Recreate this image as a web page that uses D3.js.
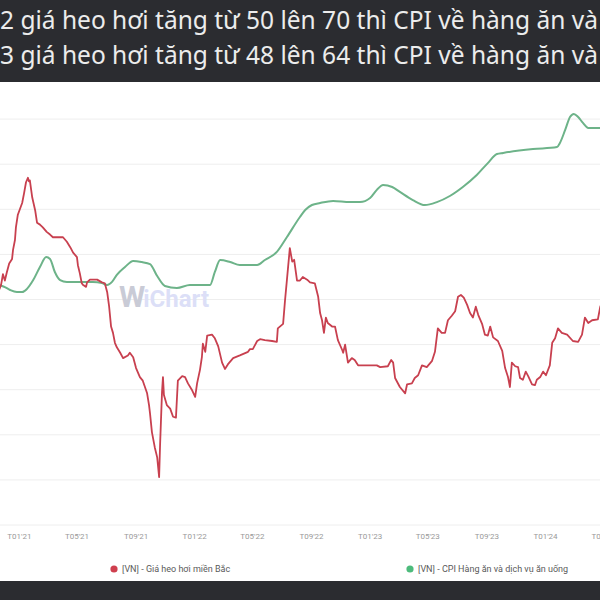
<!DOCTYPE html>
<html><head><meta charset="utf-8">
<script src="https://cdn.jsdelivr.net/npm/d3@7"></script>
<style>html,body{margin:0;padding:0;background:#fff;}svg{display:block;}</style>
</head><body>
<svg id="c" width="600" height="600"></svg>
<script>
const bannerLines = ["2 giá heo hơi tăng từ 50 lên 70 thì CPI về hàng ăn và",
                     "3 giá heo hơi tăng từ 48 lên 64 thì CPI về hàng ăn và"];
const seriesNames = ["[VN] - Giá heo hơi miền Bắc", "[VN] - CPI Hàng ăn và dịch vụ ăn uống"];
const tickDates = ["2021-01-01","2021-05-01","2021-09-01","2022-01-01","2022-05-01","2022-09-01",
                   "2023-01-01","2023-05-01","2023-09-01","2024-01-01","2024-05-01"];

const porkDates = ["2020-11-19","2020-11-25","2020-11-29","2020-12-03","2020-12-07","2020-12-12","2020-12-18","2020-12-20","2020-12-24","2020-12-26","2020-12-30",
"2021-01-08","2021-01-12","2021-01-16","2021-01-20","2021-01-22","2021-01-24","2021-01-29","2021-02-04","2021-02-08","2021-02-14","2021-02-20","2021-02-28",
"2021-03-07","2021-03-13","2021-04-03","2021-04-11","2021-04-18","2021-04-24","2021-05-02","2021-05-04","2021-05-08","2021-05-12","2021-05-15","2021-05-21",
"2021-05-23","2021-05-29","2021-06-13","2021-06-23","2021-06-29","2021-07-04","2021-07-08","2021-07-12","2021-07-16","2021-07-20","2021-07-24","2021-07-31",
"2021-08-06","2021-08-16","2021-08-20","2021-08-27","2021-09-02","2021-09-10","2021-09-16","2021-09-25","2021-09-29","2021-10-01","2021-10-05","2021-10-11",
"2021-10-16","2021-10-20","2021-10-22","2021-10-26","2021-10-28","2021-10-30","2021-11-05","2021-11-12","2021-11-18","2021-11-24","2021-11-28","2021-12-07",
"2021-12-13","2021-12-19","2021-12-27","2022-01-03","2022-01-07","2022-01-13","2022-01-17","2022-01-19","2022-01-24","2022-01-28","2022-02-07","2022-02-13",
"2022-02-20","2022-02-28","2022-03-06","2022-03-12","2022-03-23","2022-04-06","2022-04-23","2022-04-27","2022-05-03","2022-05-12","2022-05-18","2022-05-28",
"2022-06-12","2022-06-22","2022-06-24","2022-07-05","2022-07-09","2022-07-13","2022-07-19","2022-07-24","2022-07-28","2022-08-03","2022-08-09","2022-08-15",
"2022-08-24","2022-08-30","2022-09-09","2022-09-16","2022-09-20","2022-09-24","2022-09-28","2022-10-02","2022-10-06","2022-10-15","2022-10-21","2022-10-27",
"2022-11-05","2022-11-07","2022-11-11","2022-11-17","2022-11-25","2022-12-01","2022-12-08","2023-01-16","2023-01-23","2023-02-08","2023-02-15","2023-02-19",
"2023-02-23","2023-03-05","2023-03-16","2023-03-20","2023-03-30","2023-04-05","2023-04-12","2023-04-20","2023-04-30","2023-05-11","2023-05-17","2023-05-23",
"2023-05-31","2023-06-07","2023-06-13","2023-06-21","2023-06-28","2023-07-04","2023-07-10","2023-07-16","2023-07-23","2023-07-29","2023-08-04","2023-08-10",
"2023-08-15","2023-08-23","2023-08-29","2023-09-04","2023-09-09","2023-09-15","2023-09-25","2023-10-04","2023-10-10","2023-10-16","2023-10-20","2023-10-24",
"2023-10-31","2023-11-06","2023-11-10","2023-11-16","2023-11-22","2023-11-27","2023-12-05","2023-12-11","2023-12-15","2023-12-22","2023-12-28","2024-01-03",
"2024-01-11","2024-01-16","2024-01-22","2024-01-28","2024-02-05","2024-02-16","2024-02-28","2024-03-10","2024-03-18","2024-03-24","2024-03-31","2024-04-08",
"2024-04-20","2024-04-25","2024-04-30"];
const porkPrices = [65.8,66.6,67.8,67.1,68.0,69.0,69.5,70.5,71.6,73.0,74.4,
75.7,76.8,78.0,78.5,78.1,78.2,76.3,74.9,73.5,73.3,73.0,72.5,
72.2,71.9,71.9,71.4,70.8,70.2,69.7,68.8,67.9,66.8,66.6,66.4,
66.9,67.2,67.2,66.9,66.8,65.8,64.2,62.0,61.3,60.2,59.7,59.1,
58.5,58.8,59.1,58.6,57.4,56.4,56.0,54.6,53.3,52.4,50.3,48.6,
47.5,45.3,48.9,54.7,56.4,54.4,53.3,52.9,52.0,51.9,56.0,56.5,
56.4,55.7,55.0,54.2,55.7,57.2,58.6,60.1,59.2,61.0,61.1,60.7,
59.8,58.0,57.3,57.8,58.5,58.8,59.2,59.5,59.5,60.4,60.6,60.5,
60.4,60.3,61.8,62.3,64.9,67.2,70.7,69.2,69.4,67.1,67.1,67.5,
67.2,66.9,66.8,65.3,63.5,62.7,61.3,63.0,62.4,62.0,62.0,60.5,
59.4,59.1,60.0,58.0,58.5,58.3,57.7,57.7,57.5,57.6,58.3,58.0,
56.3,55.3,54.6,55.6,55.7,56.3,56.6,57.7,57.5,58.2,59.2,61.8,
61.3,61.3,62.7,63.2,63.7,65.3,65.5,65.2,64.4,63.5,63.0,64.2,
63.3,62.3,61.1,61.0,62.0,60.8,60.4,59.3,57.4,56.4,55.3,58.0,
57.6,57.5,56.3,56.1,57.0,56.5,55.6,55.5,56.1,56.4,57.0,56.6,
57.7,60.2,60.7,61.8,61.3,61.1,60.4,60.3,61.1,63.0,62.4,62.7,
62.8,64.2,64.9];

const cpiDates = ["2020-11-19","2020-11-23","2020-12-03","2020-12-14","2020-12-28","2021-01-08","2021-01-18","2021-01-31","2021-02-14","2021-02-27",
"2021-03-07","2021-03-17","2021-03-28","2021-04-11","2021-05-08","2021-06-04","2021-06-23","2021-07-04","2021-07-14","2021-07-24","2021-08-10",
"2021-08-27","2021-09-14","2021-10-01","2021-10-16","2021-11-01","2021-11-26","2021-12-23","2022-02-03","2022-02-13","2022-02-24","2022-03-17",
"2022-04-06","2022-05-12","2022-05-28","2022-06-22","2022-07-13","2022-08-09","2022-08-20","2022-09-03","2022-09-20","2022-10-17","2022-11-21",
"2022-12-12","2023-01-02","2023-01-16","2023-01-29","2023-02-17","2023-03-05","2023-04-01","2023-04-26","2023-05-21","2023-06-17","2023-07-14",
"2023-08-12","2023-09-04","2023-09-23","2023-10-06","2023-12-07","2024-01-26","2024-02-01","2024-02-12","2024-02-22","2024-03-01","2024-03-10",
"2024-03-20","2024-03-31","2024-04-25","2024-04-30"];
const cpiValues = [106.69,106.64,106.55,106.42,106.33,106.33,106.47,106.86,107.44,107.88,
107.80,107.22,106.86,106.78,106.78,106.78,106.73,106.64,106.78,107.09,107.44,
107.71,107.66,107.57,107.04,106.60,106.51,106.64,106.64,107.22,107.75,107.66,
107.53,107.53,107.75,108.11,108.77,109.66,109.97,110.19,110.28,110.37,110.32,
110.32,110.50,110.86,111.08,110.99,110.77,110.41,110.19,110.32,110.59,110.99,
111.52,112.05,112.45,112.50,112.67,112.76,112.94,113.52,114.09,114.23,114.09,
113.83,113.61,113.61,113.61];

const parse = d3.utcParse("%Y-%m-%d");
const pork = porkDates.map((d,i)=>({date:parse(d), v:porkPrices[i]}));
const cpi = cpiDates.map((d,i)=>({date:parse(d), v:cpiValues[i]}));

const W = 600, H = 600;
const svg = d3.select("#c");
svg.append("rect").attr("width",W).attr("height",H).attr("fill","#ffffff");

const x = d3.scaleUtc().domain([parse("2021-01-01"), parse("2024-01-01")]).range([18.8, 545]);
const yPork = d3.scaleLinear().domain([40, 90]).range([525, 74]);
const yCpi = d3.scaleLinear().domain([96, 116]).range([525, 74]);

// gridlines
svg.append("g").selectAll("line").data(yPork.ticks(10)).join("line")
  .attr("x1",0).attr("x2",W).attr("y1",d=>yPork(d)).attr("y2",d=>yPork(d))
  .attr("stroke","#eeeeee").attr("stroke-width",1);

// watermark
const wm = svg.append("text").attr("x",119).attr("y",307)
  .attr("font-family","Roboto, 'Open Sans', sans-serif").attr("font-weight",700);
wm.append("tspan").attr("font-size",30).attr("fill","#c9cbd6").text("W");
wm.append("tspan").attr("font-size",24).attr("fill","#dcdff7").attr("dx",-2).text("iChart");

const clip = svg.append("clipPath").attr("id","plot").append("rect")
  .attr("x",0).attr("y",82).attr("width",W).attr("height",450);

const cpiLine = d3.line().x(d=>x(d.date)).y(d=>yCpi(d.v)).curve(d3.curveMonotoneX);
const porkLine = d3.line().x(d=>x(d.date)).y(d=>yPork(d.v));

svg.append("path").datum(cpi).attr("d",cpiLine).attr("clip-path","url(#plot)")
  .attr("fill","none").attr("stroke","#6db389").attr("stroke-width",2);
svg.append("path").datum(pork).attr("d",porkLine).attr("clip-path","url(#plot)")
  .attr("fill","none").attr("stroke","#c8404f").attr("stroke-width",1.8).attr("stroke-linejoin","round");

// x axis
const fmt = d3.utcFormat("T%m'%y");
const ax = svg.append("g").attr("transform","translate(0,525)")
  .call(d3.axisBottom(x).tickValues(tickDates.map(parse)).tickFormat(fmt).tickSize(0).tickPadding(8));
ax.select(".domain").remove();
ax.selectAll("text").attr("fill","#9a9a9a").attr("font-size",8)
  .attr("font-family","Roboto, 'Open Sans', sans-serif");

// legend
const legend = svg.append("g").attr("font-family","Roboto, 'Open Sans', sans-serif").attr("font-size",9).attr("fill","#5a5a5a");
const legendItems = [{x:114, color:"#cf3f4e", name:seriesNames[0]},{x:410, color:"#4dbb7c", name:seriesNames[1]}];
legendItems.forEach(it=>{
  legend.append("circle").attr("cx",it.x).attr("cy",569).attr("r",3.6).attr("fill",it.color);
  legend.append("text").attr("x",it.x+8).attr("y",572.3).text(it.name);
});

// banners
svg.append("rect").attr("x",0).attr("y",0).attr("width",W).attr("height",82).attr("fill","#2b2c30");
svg.append("rect").attr("x",0).attr("y",581).attr("width",W).attr("height",19).attr("fill","#2b2c30");
const bt = svg.append("g").attr("font-family","'Noto Sans', 'Open Sans', sans-serif").attr("fill","#ececec");
[29, 64].forEach((yy,i)=>{
  const t = bt.append("text").attr("x",0).attr("y",yy).attr("font-size",26).text(bannerLines[i]);
  const w = t.node().getComputedTextLength();
  t.attr("font-size", 26*598/w);
});
</script>
</body></html>
